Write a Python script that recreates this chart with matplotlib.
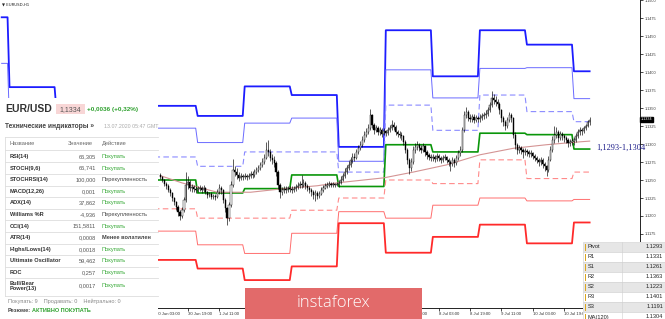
import matplotlib
matplotlib.use("Agg")
import matplotlib.pyplot as plt
from matplotlib.patches import Rectangle
import numpy as np

# ---- EURUSD H1, daily pivot levels (one value per trading day) ----
days = ['24 Jun', '25 Jun', '26 Jun', '29 Jun', '30 Jun', '1 Jul', '2 Jul',
        '3 Jul', '6 Jul', '7 Jul', '8 Jul', '9 Jul', '10 Jul', '13 Jul']
r3 = [1.1476, 1.1379, 1.1345, 1.1330, 1.1353, 1.1339, 1.1380, 1.1368, 1.1296,
      1.1458, 1.1394, 1.1458, 1.1438, 1.1401]
r2 = [1.1412, 1.1330, 1.1315, 1.1300, 1.1322, 1.1302, 1.1329, 1.1336, 1.1276,
      1.1403, 1.1364, 1.1405, 1.1406, 1.1363]
r1 = [1.1290, 1.1290, 1.1275, 1.1265, 1.1282, 1.1269, 1.1289, 1.1289, 1.1261,
      1.1354, 1.1319, 1.1368, 1.1345, 1.1331]
pivot = [1.1260, 1.1255, 1.1240, 1.1235, 1.1250, 1.1232, 1.1238, 1.1257, 1.1241,
         1.1299, 1.1289, 1.1315, 1.1313, 1.1293]
s1 = [1.1220, 1.1215, 1.1200, 1.1200, 1.1210, 1.1197, 1.1197, 1.1208, 1.1225,
      1.1250, 1.1245, 1.1278, 1.1252, 1.1261]
s2 = [1.1190, 1.1180, 1.1165, 1.1170, 1.1179, 1.1160, 1.1148, 1.1176, 1.1206,
      1.1197, 1.1215, 1.1225, 1.1221, 1.1223]
s3 = [1.1150, 1.1140, 1.1125, 1.1135, 1.1139, 1.1127, 1.1111, 1.1130, 1.1190,
      1.1149, 1.1171, 1.1188, 1.1162, 1.1191]

# bar index: 0 = 25 Jun 00:00, 24 bars per trading day
first_bar = -4
last_bar = 296
candle_start = 77
open0 = 1.1257
closes = [
    # 30 Jun
    1.1254, 1.1250, 1.1244, 1.1242, 1.1236, 1.1232, 1.1225, 1.1219, 1.1213, 1.1206,
    1.1200, 1.1208, 1.1222, 1.1243, 1.1247, 1.1239, 1.1240, 1.1238, 1.1236,
    # 1 Jul
    1.1238, 1.1239, 1.1236, 1.1239, 1.1233, 1.1229, 1.1231, 1.1226, 1.1228, 1.1226,
    1.1233, 1.1239, 1.1236, 1.1222, 1.1211, 1.1197, 1.1215, 1.1243, 1.1264, 1.1261,
    1.1257, 1.1253, 1.1256, 1.1254,
    # 2 Jul
    1.1256, 1.1254, 1.1256, 1.1258, 1.1257, 1.1261, 1.1264, 1.1267, 1.1271, 1.1275,
    1.1281, 1.1292, 1.1289, 1.1281, 1.1278, 1.1274, 1.1261, 1.1243, 1.1233, 1.1236,
    1.1238, 1.1236, 1.1239, 1.1238,
    # 3 Jul
    1.1236, 1.1238, 1.1240, 1.1242, 1.1244, 1.1243, 1.1246, 1.1242, 1.1239, 1.1236,
    1.1233, 1.1229, 1.1232, 1.1228, 1.1231, 1.1236, 1.1239, 1.1242, 1.1243, 1.1244,
    1.1243, 1.1244, 1.1243, 1.1244,
    # 6 Jul
    1.1246, 1.1250, 1.1256, 1.1261, 1.1267, 1.1271, 1.1278, 1.1282, 1.1281, 1.1289,
    1.1294, 1.1299, 1.1306, 1.1313, 1.1317, 1.1322, 1.1340, 1.1326, 1.1319, 1.1322,
    1.1317, 1.1319, 1.1314, 1.1318,
    # 7 Jul
    1.1315, 1.1319, 1.1322, 1.1326, 1.1324, 1.1317, 1.1314, 1.1313, 1.1311, 1.1303,
    1.1292, 1.1278, 1.1267, 1.1275, 1.1292, 1.1296, 1.1299, 1.1294, 1.1292, 1.1297,
    1.1289, 1.1285, 1.1282, 1.1281,
    # 8 Jul
    1.1282, 1.1279, 1.1283, 1.1281, 1.1278, 1.1281, 1.1282, 1.1278, 1.1275, 1.1272,
    1.1278, 1.1274, 1.1281, 1.1288, 1.1292, 1.1319, 1.1340, 1.1344, 1.1336, 1.1335,
    1.1338, 1.1333, 1.1336, 1.1335,
    # 9 Jul
    1.1336, 1.1339, 1.1340, 1.1342, 1.1347, 1.1354, 1.1364, 1.1361, 1.1358, 1.1356,
    1.1347, 1.1336, 1.1331, 1.1325, 1.1333, 1.1340, 1.1336, 1.1313, 1.1299, 1.1292,
    1.1294, 1.1292, 1.1289, 1.1290,
    # 10 Jul
    1.1289, 1.1286, 1.1287, 1.1283, 1.1281, 1.1278, 1.1275, 1.1278, 1.1272, 1.1269,
    1.1264, 1.1278, 1.1292, 1.1306, 1.1313, 1.1317, 1.1308, 1.1314, 1.1311, 1.1308,
    1.1306, 1.1301, 1.1303, 1.1304,
    # 13 Jul
    1.1306, 1.1311, 1.1317, 1.1319, 1.1318, 1.1322, 1.1325, 1.1331, 1.1334,
]
highs = [
    # 30 Jun
    1.1260, 1.1256, 1.1252, 1.1247, 1.1244, 1.1239, 1.1234, 1.1227, 1.1221, 1.1215,
    1.1208, 1.1212, 1.1226, 1.1261, 1.1255, 1.1250, 1.1244, 1.1243, 1.1241,
    # 1 Jul
    1.1242, 1.1243, 1.1241, 1.1243, 1.1240, 1.1235, 1.1234, 1.1233, 1.1231, 1.1231,
    1.1237, 1.1244, 1.1241, 1.1238, 1.1225, 1.1213, 1.1219, 1.1248, 1.1279, 1.1270,
    1.1266, 1.1261, 1.1260, 1.1259,
    # 2 Jul
    1.1260, 1.1259, 1.1260, 1.1262, 1.1262, 1.1265, 1.1268, 1.1271, 1.1275, 1.1280,
    1.1286, 1.1303, 1.1306, 1.1293, 1.1286, 1.1283, 1.1277, 1.1264, 1.1246, 1.1240,
    1.1242, 1.1241, 1.1242, 1.1242,
    # 3 Jul
    1.1241, 1.1242, 1.1244, 1.1247, 1.1249, 1.1257, 1.1251, 1.1249, 1.1245, 1.1242,
    1.1239, 1.1236, 1.1236, 1.1235, 1.1235, 1.1240, 1.1243, 1.1246, 1.1247, 1.1248,
    1.1247, 1.1247, 1.1246, 1.1247,
    # 6 Jul
    1.1250, 1.1255, 1.1260, 1.1266, 1.1271, 1.1276, 1.1282, 1.1287, 1.1287, 1.1293,
    1.1299, 1.1304, 1.1311, 1.1318, 1.1322, 1.1328, 1.1348, 1.1342, 1.1329, 1.1326,
    1.1325, 1.1323, 1.1322, 1.1322,
    # 7 Jul
    1.1320, 1.1323, 1.1327, 1.1334, 1.1330, 1.1326, 1.1320, 1.1318, 1.1316, 1.1313,
    1.1306, 1.1294, 1.1280, 1.1280, 1.1297, 1.1301, 1.1304, 1.1301, 1.1298, 1.1301,
    1.1299, 1.1292, 1.1288, 1.1286,
    # 8 Jul
    1.1286, 1.1285, 1.1287, 1.1286, 1.1284, 1.1285, 1.1286, 1.1284, 1.1281, 1.1278,
    1.1282, 1.1281, 1.1285, 1.1292, 1.1297, 1.1324, 1.1346, 1.1352, 1.1347, 1.1341,
    1.1342, 1.1341, 1.1340, 1.1339,
    # 9 Jul
    1.1341, 1.1343, 1.1344, 1.1347, 1.1352, 1.1359, 1.1374, 1.1369, 1.1366, 1.1362,
    1.1358, 1.1349, 1.1339, 1.1334, 1.1338, 1.1345, 1.1343, 1.1338, 1.1316, 1.1302,
    1.1298, 1.1297, 1.1295, 1.1294,
    # 10 Jul
    1.1293, 1.1292, 1.1291, 1.1289, 1.1286, 1.1284, 1.1281, 1.1282, 1.1280, 1.1275,
    1.1271, 1.1283, 1.1297, 1.1311, 1.1325, 1.1323, 1.1319, 1.1318, 1.1317, 1.1314,
    1.1311, 1.1308, 1.1307, 1.1308,
    # 13 Jul
    1.1310, 1.1315, 1.1321, 1.1323, 1.1322, 1.1325, 1.1328, 1.1334, 1.1338,
]
lows = [
    # 30 Jun
    1.1251, 1.1247, 1.1241, 1.1238, 1.1233, 1.1228, 1.1221, 1.1215, 1.1209, 1.1200,
    1.1194, 1.1197, 1.1205, 1.1220, 1.1238, 1.1235, 1.1234, 1.1234, 1.1232,
    # 1 Jul
    1.1233, 1.1235, 1.1232, 1.1234, 1.1230, 1.1225, 1.1226, 1.1223, 1.1224, 1.1222,
    1.1225, 1.1231, 1.1231, 1.1218, 1.1206, 1.1187, 1.1193, 1.1212, 1.1240, 1.1255,
    1.1252, 1.1249, 1.1250, 1.1250,
    # 2 Jul
    1.1251, 1.1250, 1.1251, 1.1253, 1.1253, 1.1254, 1.1258, 1.1261, 1.1264, 1.1268,
    1.1272, 1.1279, 1.1284, 1.1277, 1.1272, 1.1268, 1.1255, 1.1238, 1.1225, 1.1229,
    1.1232, 1.1232, 1.1233, 1.1234,
    # 3 Jul
    1.1232, 1.1233, 1.1235, 1.1237, 1.1239, 1.1239, 1.1240, 1.1238, 1.1235, 1.1232,
    1.1228, 1.1224, 1.1221, 1.1224, 1.1225, 1.1229, 1.1234, 1.1237, 1.1239, 1.1240,
    1.1240, 1.1240, 1.1240, 1.1241,
    # 6 Jul
    1.1240, 1.1244, 1.1248, 1.1253, 1.1258, 1.1264, 1.1268, 1.1274, 1.1276, 1.1279,
    1.1286, 1.1291, 1.1296, 1.1303, 1.1310, 1.1314, 1.1319, 1.1322, 1.1314, 1.1316,
    1.1313, 1.1313, 1.1310, 1.1312,
    # 7 Jul
    1.1311, 1.1313, 1.1316, 1.1320, 1.1319, 1.1313, 1.1310, 1.1309, 1.1306, 1.1298,
    1.1287, 1.1272, 1.1259, 1.1263, 1.1272, 1.1288, 1.1292, 1.1290, 1.1287, 1.1289,
    1.1284, 1.1279, 1.1278, 1.1277,
    # 8 Jul
    1.1277, 1.1275, 1.1276, 1.1277, 1.1274, 1.1275, 1.1278, 1.1273, 1.1270, 1.1262,
    1.1269, 1.1268, 1.1271, 1.1278, 1.1284, 1.1289, 1.1316, 1.1336, 1.1332, 1.1330,
    1.1331, 1.1329, 1.1330, 1.1331,
    # 9 Jul
    1.1331, 1.1333, 1.1335, 1.1336, 1.1339, 1.1345, 1.1352, 1.1356, 1.1353, 1.1350,
    1.1342, 1.1331, 1.1325, 1.1319, 1.1322, 1.1330, 1.1331, 1.1308, 1.1293, 1.1286,
    1.1287, 1.1286, 1.1281, 1.1285,
    # 10 Jul
    1.1284, 1.1282, 1.1282, 1.1279, 1.1277, 1.1273, 1.1270, 1.1271, 1.1267, 1.1263,
    1.1255, 1.1261, 1.1276, 1.1289, 1.1302, 1.1308, 1.1303, 1.1305, 1.1306, 1.1303,
    1.1301, 1.1296, 1.1297, 1.1299,
    # 13 Jul
    1.1298, 1.1303, 1.1309, 1.1313, 1.1313, 1.1315, 1.1319, 1.1323, 1.1327,
]

ma_bars = [77, 88, 106, 123, 140, 157, 167, 191, 206, 223, 240, 257, 274, 291, 296]
ma_vals = [1.1256, 1.1246, 1.1233, 1.1233, 1.1238, 1.1242, 1.1246, 1.1253, 1.1261,
           1.1271, 1.1285, 1.1294, 1.1299, 1.1303, 1.1304]

# x labels every 16 bars (the ones under the panel / table are not shown)
tick_bars = list(range(75, 290, 16))
tick_labels = ['30 Jun 03:00', '30 Jun 19:00', '1 Jul 11:00', '2 Jul 03:00',
               '2 Jul 19:00', '3 Jul 11:00', '6 Jul 03:00', '6 Jul 19:00',
               '7 Jul 11:00', '8 Jul 03:00', '8 Jul 19:00', '9 Jul 11:00',
               '10 Jul 03:00', '10 Jul 19:00']

# indicator panel
ind_names = ['RSI(14)', 'STOCH(9,6)', 'STOCHRSI(14)', 'MACD(12,26)', 'ADX(14)',
             'Williams %R', 'CCI(14)', 'ATR(14)', 'Highs/Lows(14)',
             'Ultimate Oscillator', 'ROC', 'Bull/Bear\nPower(13)']
ind_values = ['66,305', '66,741', '100,000', '0,001', '37,862', '-4,936',
              '151,5811', '0,0008', '0,0018', '59,462', '0,257', '0,0017']
ind_actions = ['Покупать', 'Покупать', 'Перекупленность', 'Покупать', 'Покупать',
               'Перекупленность', 'Покупать', 'Менее волатилен', 'Покупать',
               'Покупать', 'Покупать', 'Покупать']

# pivot table (bottom right)
piv_labels = ['Pivot', 'R1', 'S1', 'R2', 'S2', 'R3', 'S3', 'MA(120)']
piv_values = ['1.1293', '1.1331', '1.1261', '1.1363', '1.1223', '1.1401', '1.1191', '1.1304']

last_price = 1.1334

# ---- figure ----
W, H = 665, 319
fig = plt.figure(figsize=(W / 100, H / 100), dpi=100)
fig.patch.set_facecolor('white')
ax = fig.add_axes([0, 11 / H, 640 / W, 308 / H])
ax.set_xlim(-4.85, 321.7)
ax.set_ylim(1.15 - 308 / 7200, 1.15)

bars = np.arange(first_bar, last_bar + 1)
day_idx = (bars + 24) // 24
levels = [
    (r3, '#1c1cff', 1.3, '-'),
    (r2, '#6a6aff', 0.7, '-'),
    (r1, '#8a8aff', 0.8, (0, (5, 3))),
    (pivot, '#0a960a', 1.2, '-'),
    (s1, '#ff8a8a', 0.8, (0, (5, 3))),
    (s2, '#ff6e6e', 0.7, '-'),
    (s3, '#ff2a2a', 1.3, '-'),
]
for vals, col, lw, ls in levels:
    ax.plot(bars, np.array(vals)[day_idx], color=col, lw=lw, ls=ls, zorder=2)

ax.plot(ma_bars, ma_vals, color='#d49494', lw=0.8, zorder=3)

# candles
cx = np.arange(candle_start, candle_start + len(closes))
c = np.array(closes)
o = np.concatenate([[open0], c[:-1]])
ax.vlines(cx, lows, highs, color='black', lw=0.45, zorder=4)
up = c >= o
ax.bar(cx[up], (c - o)[up], bottom=o[up], width=0.6, color='white',
       edgecolor='black', lw=0.3, zorder=5)
ax.bar(cx[~up], (c - o)[~up], bottom=o[~up], width=0.6, color='black',
       edgecolor='black', lw=0.3, zorder=5)

# axes styling
for side in ['top', 'left']:
    ax.spines[side].set_visible(False)
ax.spines['right'].set_linewidth(0.6)
ax.spines['bottom'].set_linewidth(0.6)
ax.yaxis.tick_right()
yt = np.arange(1.1175, 1.15001, 0.0025)
ax.set_yticks(yt, [f'{v:.4f}' for v in yt])
ax.tick_params(axis='y', length=2, width=0.5, pad=1, labelsize=2.7, labelcolor='#333333')
ax.set_xticks(tick_bars, tick_labels)
ax.tick_params(axis='x', length=2, width=0.5, pad=1, labelsize=3.1, labelcolor='#333333')
for lbl in ax.get_xticklabels():
    lbl.set_ha('left')
for lbl in ax.get_xticklabels() + ax.get_yticklabels():
    lbl.set_family(['Liberation Sans', 'DejaVu Sans'])

# ---- overlay in pixel coordinates ----
ov = fig.add_axes([0, 0, 1, 1])
ov.set_xlim(0, W)
ov.set_ylim(H, 0)
ov.axis('off')
ov.patch.set_alpha(0)
sans = ['Liberation Sans', 'DejaVu Sans']

ov.text(2, 4, '▼ EURUSD,H1', fontsize=2.8, family=['DejaVu Sans'], va='center', color='#222')

# current price marker on the scale
ov.text(641, 119.5, f'{last_price:.4f}', fontsize=2.7, family=sans, color='white',
        va='center', ha='left',
        bbox=dict(boxstyle='square,pad=0.15', fc='black', ec='black'))

ov.text(596, 148, '1,1293-1,1304', fontsize=6, family=['Liberation Serif'],
        color='#1d1d8a', va='center', ha='left')

# indicator panel
ov.add_patch(Rectangle((0, 98), 158, H - 98, fc='white', ec='none'))
ov.text(5, 109, 'EUR/USD', fontsize=7.5, weight='bold', family=sans, color='#333333', va='center')
ov.add_patch(Rectangle((56, 104), 29, 10, fc='#f8d6d6', ec='none'))
ov.text(70.5, 109.2, '1,1334', fontsize=5, family=sans, color='#555555', va='center', ha='center')
ov.text(87, 109.5, '+0,0036 (+0,32%)', fontsize=4.6, weight='bold', family=sans,
        color='#2fa12f', va='center')
ov.text(5, 127, 'Технические индикаторы »', fontsize=4.8, weight='bold', family=sans,
        color='#444444', va='center')
ov.text(104, 127, '13.07.2020 05:47 GMT', fontsize=3.8, family=sans, color='#aaaaaa', va='center')

grid_col = '#dddddd'
ov.plot([5, 158], [137, 137], color=grid_col, lw=0.6)
ov.plot([5, 5], [137, 296], color=grid_col, lw=0.6)
ov.text(10, 143.5, 'Название', fontsize=4.1, family=sans, color='#666666', va='center')
ov.text(68, 143.5, 'Значение', fontsize=4.1, family=sans, color='#666666', va='center')
ov.text(102, 143.5, 'Действие', fontsize=4.1, family=sans, color='#666666', va='center')
ov.plot([5, 158], [150, 150], color=grid_col, lw=0.6)
for i, (nm, vl, ac) in enumerate(zip(ind_names, ind_values, ind_actions)):
    yc = 156.5 + 11.6 * i
    if '\n' in nm:
        yc = 286
    ov.text(10, yc, nm, fontsize=4.1, family=sans, color='#333333', va='center',
            weight='semibold', linespacing=1.0)
    ov.text(96, yc, vl, fontsize=4.1, family=sans, color='#555555', va='center', ha='right')
    col = '#33a833' if ac == 'Покупать' else '#444444'
    ov.text(102, yc, ac, fontsize=4.1, family=sans, color=col, va='center',
            weight='semibold' if ac == 'Менее волатилен' else 'normal')
    ysep = 162.3 + 11.6 * i if '\n' not in nm else 296
    ov.plot([5, 158], [ysep, ysep], color=grid_col, lw=0.6)
ov.text(8, 301.7, 'Покупать: 9    Продавать: 0    Нейтрально: 0', fontsize=4.0,
        family=sans, color='#888888', va='center')
t_res = ov.text(8, 311, 'Резюме:', fontsize=4.0, family=sans, weight='bold',
                color='#444444', va='center')
ov.annotate('АКТИВНО ПОКУПАТЬ', xy=(1, 0.5), xycoords=t_res, xytext=(0.3, 0),
            textcoords='offset points', fontsize=4.0, family=sans, weight='bold',
            color='#2fa12f', va='center', ha='left')

# logo
ov.add_patch(Rectangle((245, 288), 177, 31, fc='#e26a6a', ec='none'))
ov.text(333, 303, 'instaforex', fontsize=12, family=['Open Sans', 'DejaVu Sans'],
        weight='light', color='white', va='center', ha='center')

# pivot table
ov.add_patch(Rectangle((583, 242), W - 583, H - 242, fc='white', ec='none'))
for i, (lb, vl) in enumerate(zip(piv_labels, piv_values)):
    y0 = 242 + 10 * i
    fc = '#e6e6e6' if i % 2 == 0 else 'white'
    ov.add_patch(Rectangle((583, y0), W - 583, 10, fc=fc, ec='#d0d0d0', lw=0.4))
    ov.add_patch(Rectangle((584.5, y0 + 1.5), 1.0, 7, fc='#d9a520', ec='none'))
    ov.text(587.5, y0 + 5, lb, fontsize=4.1, family=sans, color='#222222', va='center')
    ov.text(663, y0 + 5, vl, fontsize=4.1, family=sans, color='#222222', va='center', ha='right')
ov.plot([622, 622], [242, H], color='#d0d0d0', lw=0.4)

fig.savefig('out.png', dpi=100)
